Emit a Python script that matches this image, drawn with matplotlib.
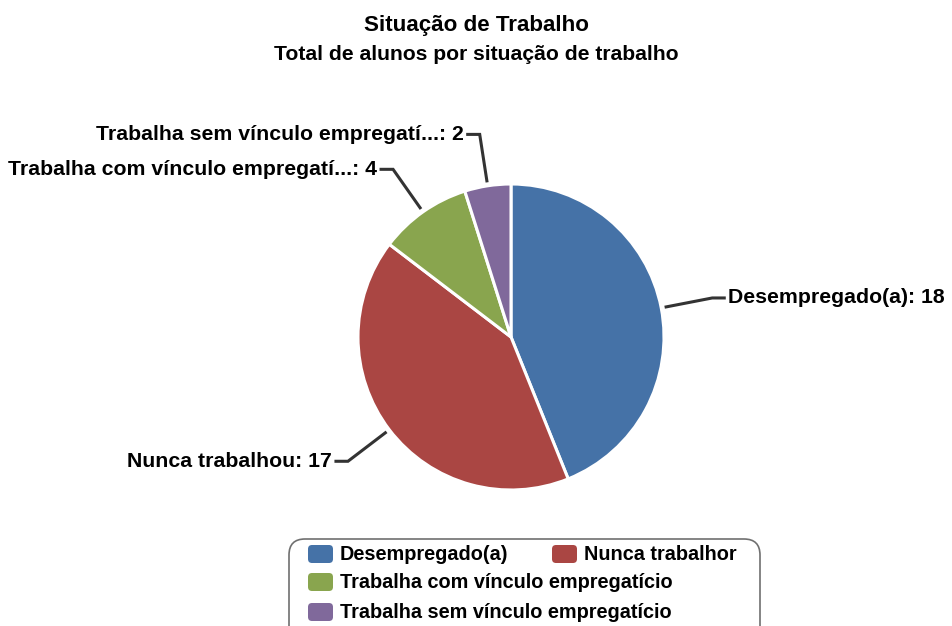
import numpy as np
import matplotlib.pyplot as plt
from matplotlib.patches import FancyBboxPatch

plt.rcParams['font.family'] = ['Liberation Sans', 'DejaVu Sans']

# data
values = [18, 17, 4, 2]
pie_labels = ["Desempregado(a)", "Nunca trabalhou",
              "Trabalha com vínculo empregatí...", "Trabalha sem vínculo empregatí..."]
legend_labels = ["Desempregado(a)", "Nunca trabalhor",
                 "Trabalha com vínculo empregatício", "Trabalha sem vínculo empregatício"]
colors = ["#4572A7", "#AA4643", "#89A54E", "#80699B"]

W, H = 952, 626
fig = plt.figure(figsize=(W / 100, H / 100), dpi=100)
ax = fig.add_axes([0, 0, 1, 1])

cx, cy, r = 511, H - 337, 153
ax.pie(values, colors=colors, startangle=90, counterclock=False,
       center=(cx, cy), radius=r,
       wedgeprops=dict(edgecolor="white", linewidth=2.2))
ax.set_xlim(0, W); ax.set_ylim(0, H)
ax.set_aspect("equal")
ax.axis("off")

# connector lines + labels
total = sum(values)
start = 90.0
for v, lab in zip(values, pie_labels):
    sweep = 360.0 * v / total
    mid = np.radians(start - sweep / 2)
    start -= sweep
    x0, y0 = cx + (r + 5) * np.cos(mid), cy + (r + 5) * np.sin(mid)
    x1, y1 = cx + (r + 52) * np.cos(mid), cy + (r + 52) * np.sin(mid)
    side = 1 if np.cos(mid) >= 0 else -1
    x2 = x1 + side * 12
    ax.plot([x0, x1, x2], [y0, y1, y1], color="#333333", lw=2.2,
            solid_joinstyle="miter")
    ax.text(x2 + side * 4, y1, f"{lab}: {v}", ha="left" if side > 0 else "right",
            va="center", fontsize=15.3, fontweight="bold", color="black")

fig.text(476 / W, 1 - 25 / H, "Situação de Trabalho", ha="center", va="center",
         fontsize=16.1, fontweight="bold")
fig.text(476 / W, 1 - 55 / H, "Total de alunos por situação de trabalho",
         ha="center", va="center", fontsize=15.2, fontweight="bold")

# legend box
box = FancyBboxPatch((289, H - 660), 471, 121,
                     boxstyle="round,pad=0,rounding_size=16",
                     facecolor="white", edgecolor="#707070", lw=1.2, clip_on=False)
ax.add_patch(box)
leg_pos = [(308, 554), (552, 554), (308, 582), (308, 612)]
for (lx, ly), lab, c in zip(leg_pos, legend_labels, colors):
    sw = FancyBboxPatch((lx, H - ly - 9), 25, 18,
                        boxstyle="round,pad=0,rounding_size=4",
                        facecolor=c, edgecolor="none")
    ax.add_patch(sw)
    ax.text(lx + 32, H - ly, lab, ha="left", va="center",
            fontsize=14.3, fontweight="bold")

fig.savefig("out.png", dpi=100, facecolor="white")
